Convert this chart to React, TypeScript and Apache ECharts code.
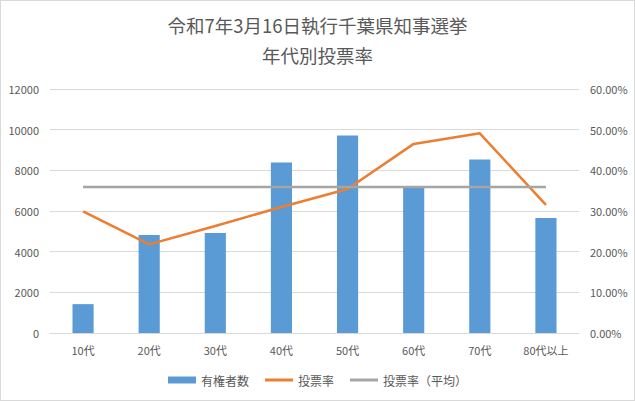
import React, { useEffect, useRef } from "react";
import * as echarts from "echarts";

const categories = ["10代", "20代", "30代", "40代", "50代", "60代", "70代", "80代以上"];
const voters = [1420, 4820, 4920, 8380, 9710, 7130, 8530, 5660];
const turnout = [29.9, 21.8, 26.3, 31.0, 35.4, 46.5, 49.1, 31.5];
const turnoutAvg = [35.9, 35.9, 35.9, 35.9, 35.9, 35.9, 35.9, 35.9];
const titleLines = ["令和7年3月16日執行千葉県知事選挙", "年代別投票率"];
const seriesNames = ["有権者数", "投票率", "投票率（平均）"];

const FONT = "'Noto Sans CJK JP', 'Noto Sans', sans-serif";
const TXT = "#595959";
const LINE_ICON = "path://M0,0 L28,0 L28,3 L0,3 Z";

export default function App() {
  const ref = useRef<HTMLDivElement>(null);
  useEffect(() => {
    if (!ref.current) return;
    const chart = echarts.init(ref.current, undefined, { renderer: "svg" });
    chart.setOption({
      animation: false,
      textStyle: { fontFamily: FONT },
      title: {
        text: titleLines.join("\n"),
        left: "center",
        top: 5,
        textStyle: { fontSize: 18.5, fontWeight: "normal", color: TXT, lineHeight: 30, fontFamily: FONT },
      },
      grid: { left: 50, right: 56, top: 89, bottom: 68 },
      legend: {
        bottom: 10,
        left: "center",
        itemGap: 16,
        itemWidth: 28,
        itemHeight: 7,
        textStyle: { color: TXT, fontSize: 12, fontFamily: FONT },
        data: [
          { name: seriesNames[0], icon: "rect" },
          { name: seriesNames[1], icon: LINE_ICON },
          { name: seriesNames[2], icon: LINE_ICON },
        ],
      },
      xAxis: {
        type: "category",
        data: categories,
        axisTick: { show: false },
        axisLine: { lineStyle: { color: "#D9D9D9", width: 1 } },
        axisLabel: { color: TXT, fontSize: 11, margin: 11, fontFamily: FONT },
      },
      yAxis: [
        {
          type: "value",
          min: 0,
          max: 12000,
          interval: 2000,
          axisLine: { show: false },
          axisTick: { show: false },
          splitLine: { lineStyle: { color: "#D9D9D9" } },
          axisLabel: {
            color: TXT,
            fontSize: 11,
            margin: 11,
            fontFamily: FONT,
            formatter: (v: number) => String(v),
          },
        },
        {
          type: "value",
          min: 0,
          max: 60,
          interval: 10,
          axisLine: { show: false },
          axisTick: { show: false },
          splitLine: { show: false },
          axisLabel: {
            color: TXT,
            fontSize: 11,
            margin: 11,
            fontFamily: FONT,
            formatter: (v: number) => v.toFixed(2) + "%",
          },
        },
      ],
      series: [
        {
          name: seriesNames[0],
          type: "bar",
          data: voters,
          barWidth: "32%",
          itemStyle: { color: "#5B9BD5" },
          yAxisIndex: 0,
        },
        {
          name: seriesNames[1],
          type: "line",
          data: turnout,
          yAxisIndex: 1,
          symbol: "none",
          lineStyle: { color: "#ED7D31", width: 2.5 },
          itemStyle: { color: "#ED7D31" },
          z: 3,
        },
        {
          name: seriesNames[2],
          type: "line",
          data: turnoutAvg,
          yAxisIndex: 1,
          symbol: "none",
          lineStyle: { color: "#A5A5A5", width: 2.5 },
          itemStyle: { color: "#A5A5A5" },
          z: 4,
        },
      ],
    });
    return () => chart.dispose();
  }, []);
  return (
    <div
      style={{
        position: "absolute",
        left: 0,
        top: 0,
        width: 635,
        height: 401,
        boxSizing: "border-box",
        border: "1px solid #D9D9D9",
        background: "#fff",
      }}
    >
      <div ref={ref} style={{ position: "absolute", left: -1, top: -1, width: 635, height: 401 }} />
    </div>
  );
}
